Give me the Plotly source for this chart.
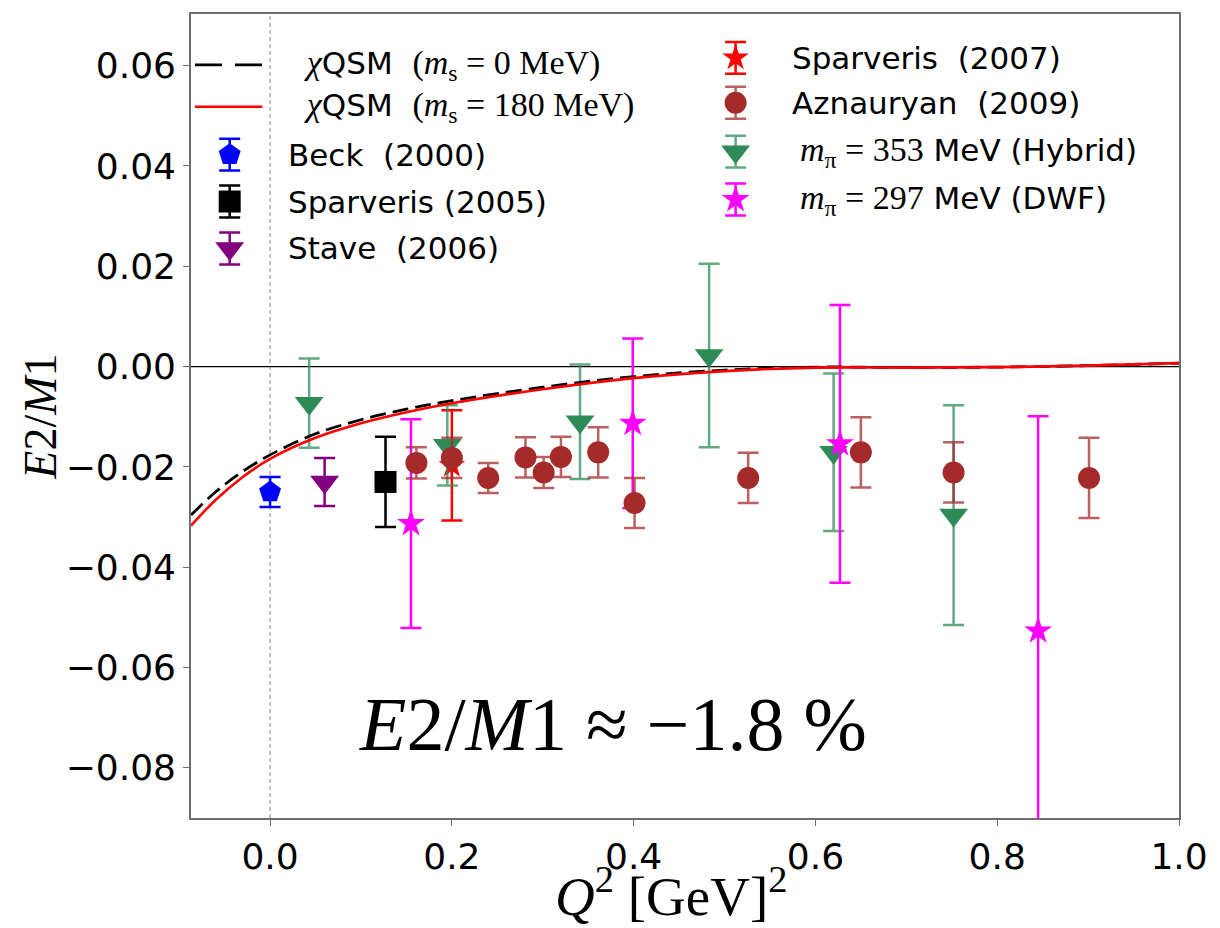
import plotly.graph_objects as go

# chiral quark-soliton model curves for E2/M1 vs Q^2
q2_curve = [-0.087, -0.06, -0.03, 0.0, 0.05, 0.1, 0.15, 0.2, 0.3, 0.4, 0.5, 0.6, 0.7, 0.8, 0.9, 1.0]
ratio_ms0 = [-0.0296, -0.0250, -0.0209, -0.0176, -0.0134, -0.0106, -0.0085, -0.0068, -0.0041,
             -0.0020, -0.0007, -0.0001, -0.0002, -0.0001, 0.0002, 0.0007]
ratio_ms180 = [-0.0317, -0.0266, -0.0220, -0.0184, -0.0142, -0.0113, -0.0091, -0.0073, -0.0045,
               -0.0023, -0.0009, -0.0002, -0.0002, -0.0001, 0.0002, 0.0007]

# experimental data
beck_q2 = [0.0]
beck_r = [-0.025]
beck_err = [0.003]

sp05_q2 = [0.127]
sp05_r = [-0.023]
sp05_err = [0.009]

stave_q2 = [0.060]
stave_r = [-0.023]
stave_err = [0.0048]

sp07_q2 = [0.200]
sp07_r = [-0.0197]
sp07_err = [0.011]

azn_q2 = [0.161, 0.200, 0.240, 0.281, 0.301, 0.320, 0.361, 0.401, 0.526, 0.650, 0.752, 0.901]
azn_r = [-0.0192, -0.0182, -0.0222, -0.0181, -0.0211, -0.0180, -0.0171, -0.0272,
         -0.0222, -0.0171, -0.0211, -0.0222]
azn_err = [0.0031, 0.0040, 0.0030, 0.0040, 0.0031, 0.0040, 0.0050, 0.0050,
           0.0050, 0.0070, 0.0060, 0.0080]

# lattice results
hyb_q2 = [0.043, 0.195, 0.341, 0.483, 0.620, 0.752]
hyb_r = [-0.0073, -0.0157, -0.0110, 0.0022, -0.0171, -0.0296]
hyb_err = [0.0089, 0.0080, 0.0114, 0.0183, 0.0157, 0.0219]

dwf_q2 = [0.155, 0.399, 0.627, 0.845]
dwf_r = [-0.0313, -0.0113, -0.0154, -0.0527]
dwf_err = [0.0208, 0.0169, 0.0277, 0.0428]

x_ticks = [0.0, 0.2, 0.4, 0.6, 0.8, 1.0]
y_ticks = [-0.08, -0.06, -0.04, -0.02, 0.0, 0.02, 0.04, 0.06]

SANS = "DejaVu Sans"
SERIF = "Liberation Serif"
NB = "\u00a0"

# figure geometry (pixels)
W, H = 1220, 928
ML, MR, MT, MB = 191, 33, 12, 110
PW, PH = W - ML - MR, H - MT - MB


def fx(px):
    """pixel column -> fraction of plot width (overlay axis units)"""
    return (px - ML) / PW


def fy(py):
    """pixel row -> fraction of plot height (overlay axis units)"""
    return 1 - (py - MT) / PH


def math(s, size=34):
    return f"<span style='font-family:{SERIF};font-size:{size}px'>{s}</span>"


# per-series marker styles
styles = {
    "beck": dict(color="#0000ff", symbol="pentagon", size=23, ecol="#0000ff"),
    "sp05": dict(color="#000000", symbol="square", size=22, ecol="#000000"),
    "stave": dict(color="#800080", symbol="triangle-down", size=25, ecol="#800080"),
    "sp07": dict(color="#ff0000", symbol="star", size=20, ecol="#ff0000"),
    "azn": dict(color="#a52a2a", symbol="circle", size=22, ecol="rgba(165,42,42,0.75)"),
    "hyb": dict(color="#2e8b57", symbol="triangle-down", size=25, ecol="rgba(46,139,87,0.75)"),
    "dwf": dict(color="#ff00ff", symbol="star", size=21, ecol="#ff00ff"),
}


def err_trace(x, y, e, key, name, xaxis="x", yaxis="y"):
    st = styles[key]
    return go.Scatter(
        x=x, y=y, mode="markers", name=name, showlegend=False, xaxis=xaxis, yaxis=yaxis,
        marker=dict(symbol=st["symbol"], size=st["size"], color=st["color"], line=dict(width=0)),
        error_y=dict(type="data", array=e, visible=True, color=st["ecol"],
                     thickness=2.5, width=10.5),
        hoverinfo="skip" if xaxis != "x" else None,
    )


fig = go.Figure()

# data (drawing order: earlier ones underneath)
fig.add_trace(err_trace(beck_q2, beck_r, beck_err, "beck", "Beck (2000)"))
fig.add_trace(err_trace(sp05_q2, sp05_r, sp05_err, "sp05", "Sparveris (2005)"))
fig.add_trace(err_trace(stave_q2, stave_r, stave_err, "stave", "Stave (2006)"))
fig.add_trace(err_trace(sp07_q2, sp07_r, sp07_err, "sp07", "Sparveris (2007)"))
fig.add_trace(err_trace(hyb_q2, hyb_r, hyb_err, "hyb", "m_pi = 353 MeV (Hybrid)"))
fig.add_trace(err_trace(dwf_q2, dwf_r, dwf_err, "dwf", "m_pi = 297 MeV (DWF)"))
fig.add_trace(err_trace(azn_q2, azn_r, azn_err, "azn", "Aznauryan (2009)"))

line_ms0 = dict(color="black", width=2.8, dash="16px,7px")
line_ms180 = dict(color="#ff0000", width=2.6)
fig.add_trace(go.Scatter(x=q2_curve, y=ratio_ms0, mode="lines", line_shape="spline",
                         name="chiQSM (m_s = 0 MeV)", showlegend=False, line=line_ms0))
fig.add_trace(go.Scatter(x=q2_curve, y=ratio_ms180, mode="lines", line_shape="spline",
                         name="chiQSM (m_s = 180 MeV)", showlegend=False, line=line_ms180))

# ---- hand-built legend on an overlay axis (0..1 across the plot area) ----
legend_ms0 = dict(line_ms0, dash="27px,13px")
chi = math("<i>χ</i>") + "QSM" + NB + NB
legend_rows = [
    # (kind, style, symbol column, row, text column, label)
    ("line", legend_ms0, 229, 63, 296, NB + chi + math(f"(<i>m</i><sub>s</sub> = 0{NB}MeV)")),
    ("line", line_ms180, 229, 105, 296, NB + chi + math(f"(<i>m</i><sub>s</sub> = 180{NB}MeV)")),
    ("mark", "beck", 230, 153, 287, f"Beck{NB}{NB}(2000)"),
    ("mark", "sp05", 230, 200, 287, f"Sparveris{NB}(2005)"),
    ("mark", "stave", 230, 247, 287, f"Stave{NB}{NB}(2006)"),
    ("mark", "sp07", 740, 56, 795, f"Sparveris{NB}{NB}(2007)"),
    ("mark", "azn", 740, 101, 795, f"Aznauryan{NB}{NB}(2009)"),
    ("mark", "hyb", 740, 150, 803, math(f"<i>m</i><sub>π</sub> = 353") + f"{NB}MeV (Hybrid)"),
    ("mark", "dwf", 740, 198, 803, math(f"<i>m</i><sub>π</sub> = 297") + f"{NB}MeV (DWF)"),
]
LEG_LINE_HALF = 34   # px half-length of line sample
LEG_ERR = 16         # px half-height of legend error bar

annotations = []
for kind, what, sx, sy, tx, label in legend_rows:
    if kind == "line":
        fig.add_trace(go.Scatter(
            x=[fx(sx - LEG_LINE_HALF), fx(sx + LEG_LINE_HALF)], y=[fy(sy), fy(sy)],
            mode="lines", line=what, showlegend=False, hoverinfo="skip",
            xaxis="x2", yaxis="y2"))
    else:
        fig.add_trace(err_trace([fx(sx)], [fy(sy)], [LEG_ERR / PH], what, "", "x2", "y2"))
    annotations.append(dict(
        text=label, xref="x2", yref="y2", x=fx(tx), y=fy(sy), xanchor="left",
        yanchor="middle", showarrow=False, font=dict(family=SANS, size=31, color="black")))

# reference lines
fig.add_shape(type="line", xref="x", yref="paper", x0=0, x1=0, y0=0, y1=1,
              line=dict(color="#888888", width=1, dash="4px,3px"), layer="below")
fig.add_shape(type="line", xref="paper", yref="y", x0=0, x1=1, y0=0, y1=0,
              line=dict(color="black", width=1.2), layer="below")

axis_common = dict(
    showgrid=False, zeroline=False, showline=True, mirror=True,
    linecolor="#6e6e6e", linewidth=1.6, ticks="outside", ticklen=6, tickwidth=1.4,
    tickcolor="#6e6e6e", tickfont=dict(family=SANS, size=36, color="black"),
)

annotations += [
    dict(text="<i>E</i>2/<i>M</i>1", xref="paper", yref="paper", x=-0.152, y=0.499,
         xanchor="center", yanchor="middle", textangle=-90, showarrow=False,
         font=dict(family=SERIF, size=46, color="black")),
    dict(text=f"<i>Q</i><sup>2</sup>{NB}[GeV]<sup>2</sup>", xref="paper", yref="paper",
         x=0.486, y=-0.093, xanchor="center", yanchor="middle", showarrow=False,
         font=dict(family=SERIF, size=55, color="black")),
    dict(text="<i>E</i>2/<i>M</i>1 ≈ −1.8 %", xref="x", yref="y", x=0.377, y=-0.0712,
         xanchor="center", yanchor="middle", showarrow=False,
         font=dict(family=SERIF, size=76, color="black")),
]

fig.update_layout(
    width=W, height=H,
    margin=dict(l=ML, r=MR, t=MT, b=MB),
    paper_bgcolor="white", plot_bgcolor="white",
    showlegend=False,
    xaxis=dict(range=[-0.087, 1.0], tickvals=x_ticks, tickformat=".1f", **axis_common),
    yaxis=dict(range=[-0.09, 0.0703], tickvals=y_ticks, tickformat=".2f", **axis_common),
    xaxis2=dict(overlaying="x", range=[0, 1], visible=False, fixedrange=True),
    yaxis2=dict(overlaying="y", range=[0, 1], visible=False, fixedrange=True),
    annotations=annotations,
)

fig.write_html("out.html")
